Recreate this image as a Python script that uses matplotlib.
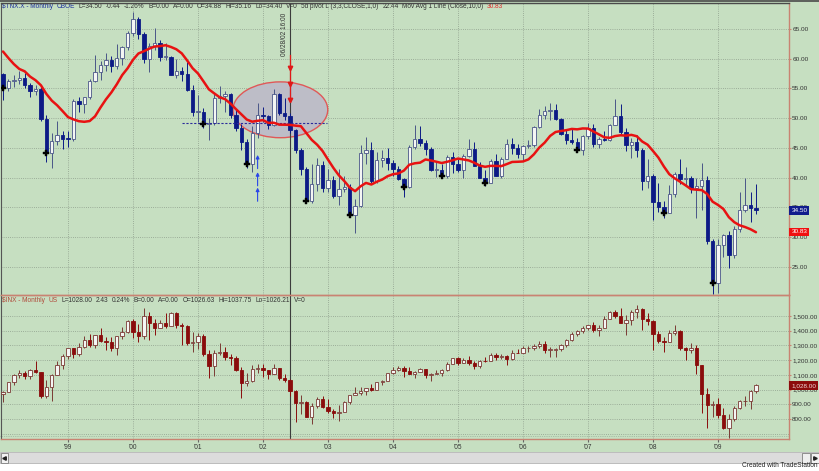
import matplotlib
matplotlib.use("Agg")
import matplotlib.pyplot as plt
from matplotlib.patches import Ellipse, Rectangle
from matplotlib.transforms import blended_transform_factory
import numpy as np

plt.rcParams["font.family"] = ["Liberation Sans", "DejaVu Sans"]

# ---- data: monthly bars Jan 1998 .. Aug 2009 (index 0 = Jan 1998) ----
# 10-year yield x10 ($TNX.X); closes Apr-Dec 1997 only feed the 10-bar average
TNX_PRE = [67.2, 66.6, 64.9, 59.5, 63.4, 61.0, 58.3, 58.7, 57.4]
TNX_O = [57.4, 55.1, 56.2, 56.5, 56.7, 55.5, 54.5, 54.9, 49.8, 44.2, 46.1, 47.1,
         46.5, 46.4, 52.9, 52.4, 53.5, 56.2, 57.8, 59.0, 59.7, 58.8, 60.2, 61.9,
         64.4, 66.7, 64.1, 60.0, 62.1, 62.7, 60.3, 60.3, 57.3, 58.0, 57.5, 54.7,
         51.1, 51.1, 49.0, 49.2, 53.4, 53.8, 54.1, 50.5, 48.3, 45.9, 42.3, 47.5,
         50.5, 50.3, 48.8, 54.0, 50.9, 50.4, 48.0, 44.6, 41.4, 36.0, 38.9, 42.1,
         38.2, 39.6, 36.9, 38.0, 38.4, 33.7, 35.2, 44.1, 44.7, 39.4, 42.9, 43.3,
         42.5, 41.4, 39.7, 38.4, 45.1, 46.5, 45.8, 44.8, 41.2, 41.2, 40.3, 43.5,
         42.2, 41.3, 43.6, 44.8, 42.0, 40.0, 39.1, 42.8, 40.2, 43.2, 45.6, 44.9,
         43.9, 45.3, 45.5, 48.5, 50.5, 51.2, 51.4, 49.8, 47.3, 46.3, 46.0, 44.6,
         47.0, 48.3, 45.6, 46.5, 46.3, 48.9, 50.3, 47.6, 45.4, 45.9, 44.7, 39.4,
         40.2, 35.9, 35.1, 34.1, 37.3, 40.6, 39.7, 39.9, 38.2, 38.5, 39.5, 29.3,
         22.2, 28.6, 30.4, 26.9, 31.3, 34.6, 35.3, 34.8]
TNX_H = [57.6, 56.6, 57.3, 58.0, 57.6, 55.9, 55.5, 55.2, 50.5, 47.5, 49.5, 47.9,
         47.8, 53.3, 53.6, 53.6, 56.6, 60.7, 59.6, 61.0, 60.5, 62.5, 62.2, 64.6,
         67.9, 67.0, 64.5, 62.6, 65.2, 63.2, 62.6, 60.5, 59.9, 58.6, 59.5, 55.6,
         53.9, 51.7, 50.1, 54.3, 55.4, 54.6, 54.2, 51.4, 49.0, 46.5, 48.6, 52.5,
         51.9, 50.6, 54.9, 54.2, 53.4, 50.9, 48.2, 44.9, 41.8, 42.3, 43.3, 42.7,
         41.4, 40.3, 41.4, 40.3, 38.9, 36.3, 45.4, 46.8, 46.0, 44.3, 44.6, 44.9,
         42.9, 41.9, 39.9, 45.4, 48.9, 48.7, 46.3, 45.1, 42.8, 42.2, 43.8, 44.3,
         43.2, 44.0, 46.4, 46.0, 42.6, 41.2, 43.1, 44.0, 43.4, 46.4, 46.7, 45.6,
         45.4, 46.3, 48.6, 51.5, 52.1, 52.5, 52.3, 50.1, 48.0, 48.4, 46.6, 47.1,
         49.1, 49.0, 46.9, 47.8, 49.0, 53.2, 52.3, 48.4, 46.7, 47.1, 44.9, 43.2,
         40.6, 39.1, 36.1, 38.8, 40.9, 43.2, 41.8, 40.3, 40.0, 42.5, 40.3, 29.6,
         29.6, 30.5, 31.0, 31.9, 37.5, 40.0, 37.6, 38.9]
TNX_L = [53.1, 54.6, 55.3, 55.7, 55.0, 53.6, 53.9, 49.5, 42.6, 41.6, 45.5, 44.8,
         45.1, 46.2, 51.1, 50.8, 53.3, 56.0, 56.5, 58.0, 57.7, 58.2, 58.9, 61.5,
         63.8, 63.3, 59.3, 57.8, 61.4, 59.6, 59.8, 57.2, 56.8, 56.2, 54.6, 50.4,
         49.3, 48.4, 46.3, 48.9, 52.6, 51.1, 50.1, 47.8, 44.6, 41.6, 41.0, 46.6,
         49.3, 48.2, 48.6, 50.6, 49.7, 47.5, 44.2, 40.4, 35.7, 35.7, 37.8, 37.6,
         37.6, 36.5, 35.4, 37.6, 33.3, 30.7, 35.0, 42.3, 39.1, 39.0, 41.7, 41.2,
         40.3, 39.6, 36.8, 38.2, 44.8, 45.3, 43.8, 41.1, 40.1, 39.9, 40.0, 40.8,
         41.0, 40.0, 43.5, 41.9, 39.9, 38.6, 39.1, 40.2, 39.9, 43.2, 43.9, 43.3,
         42.9, 44.9, 45.1, 48.3, 49.9, 49.6, 49.7, 47.2, 45.6, 45.6, 44.3, 43.8,
         46.5, 45.2, 44.9, 46.2, 46.2, 48.9, 47.3, 44.4, 43.3, 43.4, 37.9, 38.2,
         32.8, 34.2, 33.1, 34.0, 36.7, 38.9, 38.5, 37.4, 33.2, 34.5, 28.8, 20.4,
         20.6, 26.7, 24.7, 26.4, 30.9, 34.2, 32.5, 33.9]
TNX_C = [55.1, 56.2, 56.5, 56.7, 55.5, 54.5, 54.9, 49.8, 44.2, 46.1, 47.1, 46.5,
         46.4, 52.9, 52.4, 53.5, 56.2, 57.8, 59.0, 59.7, 58.8, 60.2, 61.9, 64.4,
         66.7, 64.1, 60.0, 62.1, 62.7, 60.3, 60.3, 57.3, 58.0, 57.5, 54.7, 51.1,
         51.1, 49.0, 49.2, 53.4, 53.8, 54.1, 50.5, 48.3, 45.9, 42.3, 47.5, 50.5,
         50.3, 48.8, 54.0, 50.9, 50.4, 48.0, 44.6, 41.4, 36.0, 38.9, 42.1, 38.2,
         39.6, 36.9, 38.0, 38.4, 33.7, 35.2, 44.1, 44.7, 39.4, 42.9, 43.3, 42.5,
         41.4, 39.7, 38.4, 45.1, 46.5, 45.8, 44.8, 41.2, 41.2, 40.3, 43.5, 42.2,
         41.3, 43.6, 44.8, 42.0, 40.0, 39.1, 42.8, 40.2, 43.2, 45.6, 44.9, 43.9,
         45.3, 45.5, 48.5, 50.5, 51.2, 51.4, 49.8, 47.3, 46.3, 46.0, 44.6, 47.0,
         48.3, 45.6, 46.5, 46.3, 48.9, 50.3, 47.6, 45.4, 45.9, 44.7, 39.4, 40.2,
         35.9, 35.1, 34.1, 37.3, 40.6, 39.7, 39.9, 38.2, 38.5, 39.5, 29.3, 22.2,
         28.6, 30.4, 26.9, 31.3, 34.6, 35.3, 34.8, 34.5]

# S&P 500 ($INX)
SPX_O = [970.4, 980.3, 1049.3, 1101.8, 1111.8, 1090.8, 1133.8, 1120.7, 957.3, 1017.0, 1098.7, 1163.6,
         1229.2, 1279.6, 1238.3, 1286.4, 1335.2, 1301.8, 1372.7, 1328.7, 1320.4, 1282.7, 1362.9, 1389.0,
         1469.3, 1394.5, 1366.4, 1498.6, 1452.4, 1420.6, 1454.6, 1430.8, 1517.7, 1436.5, 1429.4, 1315.2,
         1320.3, 1366.0, 1239.9, 1160.3, 1249.5, 1255.8, 1224.4, 1211.2, 1133.6, 1040.9, 1059.8, 1139.5,
         1148.1, 1130.2, 1106.7, 1147.4, 1076.9, 1067.1, 989.8, 911.6, 916.1, 815.3, 885.8, 936.3,
         879.8, 855.7, 841.2, 848.2, 916.9, 963.6, 974.5, 990.3, 1008.0, 996.0, 1050.7, 1058.2,
         1111.9, 1131.1, 1144.9, 1126.2, 1107.3, 1120.7, 1140.8, 1101.7, 1104.2, 1114.6, 1130.2, 1173.8,
         1211.9, 1181.3, 1203.6, 1180.6, 1156.9, 1191.5, 1191.3, 1234.2, 1220.3, 1228.8, 1207.0, 1249.5,
         1248.3, 1280.1, 1280.7, 1294.9, 1310.6, 1270.1, 1270.2, 1276.7, 1303.8, 1335.9, 1377.9, 1400.6,
         1418.3, 1438.2, 1406.8, 1420.9, 1482.4, 1530.6, 1503.4, 1455.3, 1474.0, 1526.8, 1549.4, 1481.1,
         1468.4, 1378.6, 1330.6, 1326.4, 1385.6, 1400.4, 1280.0, 1267.4, 1282.8, 1166.4, 968.8, 896.2,
         903.3, 825.9, 735.1, 797.9, 872.8, 919.1, 919.3, 987.5]
SPX_H = [992.7, 1051.0, 1105.7, 1130.5, 1122.7, 1138.5, 1190.6, 1121.0, 1066.1, 1104.0, 1192.9, 1244.9,
         1283.5, 1280.4, 1316.6, 1362.8, 1376.8, 1372.9, 1420.3, 1359.4, 1357.7, 1362.9, 1422.1, 1473.1,
         1478.0, 1444.5, 1552.9, 1527.2, 1481.5, 1474.6, 1517.3, 1525.2, 1530.1, 1454.8, 1438.5, 1389.1,
         1383.4, 1376.4, 1267.4, 1269.3, 1315.9, 1286.6, 1239.8, 1226.3, 1155.4, 1110.6, 1163.4, 1173.6,
         1176.6, 1130.2, 1173.0, 1147.8, 1106.6, 1070.7, 994.5, 965.0, 924.0, 907.4, 951.6, 954.3,
         935.1, 864.6, 895.9, 924.2, 965.4, 1015.3, 1015.4, 1011.0, 1040.3, 1053.8, 1063.7, 1112.6,
         1155.4, 1158.9, 1163.2, 1150.6, 1127.7, 1146.3, 1140.8, 1109.7, 1131.5, 1142.1, 1188.5, 1217.3,
         1217.8, 1212.4, 1229.1, 1191.9, 1199.6, 1219.6, 1245.2, 1245.9, 1243.1, 1233.3, 1270.6, 1275.8,
         1294.9, 1297.6, 1310.9, 1326.7, 1326.7, 1290.7, 1280.4, 1306.7, 1340.3, 1389.5, 1407.9, 1431.8,
         1441.6, 1461.6, 1438.9, 1498.0, 1535.6, 1540.6, 1555.9, 1503.9, 1538.7, 1576.1, 1552.8, 1523.6,
         1471.8, 1396.0, 1359.7, 1404.0, 1440.2, 1404.1, 1292.2, 1313.2, 1303.0, 1167.0, 1007.5, 918.9,
         943.9, 875.0, 832.9, 888.7, 930.2, 956.2, 996.7, 1039.5]
SPX_L = [912.8, 980.3, 1032.6, 1076.7, 1074.4, 1074.0, 1114.3, 939.9, 939.7, 923.3, 1098.7, 1136.9,
         1205.5, 1211.6, 1226.8, 1282.5, 1287.2, 1281.4, 1325.6, 1268.7, 1263.8, 1233.7, 1343.9, 1387.4,
         1350.1, 1325.1, 1346.6, 1339.4, 1373.5, 1420.6, 1416.5, 1430.8, 1419.4, 1305.8, 1305.9, 1254.1,
         1274.6, 1228.3, 1081.2, 1091.9, 1232.4, 1203.0, 1165.5, 1124.9, 944.8, 1026.8, 1054.3, 1114.5,
         1081.7, 1074.4, 1106.7, 1063.5, 1048.9, 952.9, 775.7, 833.4, 815.0, 768.6, 872.1, 871.8,
         840.3, 806.3, 788.9, 847.9, 902.8, 963.6, 962.1, 960.8, 990.4, 995.9, 1031.2, 1058.2,
         1105.1, 1124.4, 1087.2, 1107.2, 1076.3, 1118.2, 1078.8, 1060.7, 1102.1, 1090.2, 1127.6, 1173.8,
         1163.8, 1180.1, 1163.7, 1136.2, 1146.2, 1188.3, 1191.1, 1201.1, 1205.4, 1168.2, 1201.1, 1246.6,
         1245.7, 1253.6, 1268.4, 1285.0, 1245.3, 1219.3, 1224.5, 1261.3, 1290.9, 1327.1, 1360.9, 1385.9,
         1403.0, 1389.1, 1363.9, 1416.4, 1476.7, 1484.2, 1454.3, 1370.6, 1439.3, 1489.6, 1406.1, 1435.7,
         1270.1, 1316.8, 1256.9, 1324.4, 1373.1, 1272.0, 1200.4, 1247.5, 1106.4, 839.8, 741.0, 815.7,
         804.2, 734.5, 666.8, 783.3, 866.1, 888.9, 869.3, 978.5]
SPX_C = [980.3, 1049.3, 1101.8, 1111.8, 1090.8, 1133.8, 1120.7, 957.3, 1017.0, 1098.7, 1163.6, 1229.2,
         1279.6, 1238.3, 1286.4, 1335.2, 1301.8, 1372.7, 1328.7, 1320.4, 1282.7, 1362.9, 1389.0, 1469.3,
         1394.5, 1366.4, 1498.6, 1452.4, 1420.6, 1454.6, 1430.8, 1517.7, 1436.5, 1429.4, 1315.2, 1320.3,
         1366.0, 1239.9, 1160.3, 1249.5, 1255.8, 1224.4, 1211.2, 1133.6, 1040.9, 1059.8, 1139.5, 1148.1,
         1130.2, 1106.7, 1147.4, 1076.9, 1067.1, 989.8, 911.6, 916.1, 815.3, 885.8, 936.3, 879.8,
         855.7, 841.2, 848.2, 916.9, 963.6, 974.5, 990.3, 1008.0, 996.0, 1050.7, 1058.2, 1111.9,
         1131.1, 1144.9, 1126.2, 1107.3, 1120.7, 1140.8, 1101.7, 1104.2, 1114.6, 1130.2, 1173.8, 1211.9,
         1181.3, 1203.6, 1180.6, 1156.9, 1191.5, 1191.3, 1234.2, 1220.3, 1228.8, 1207.0, 1249.5, 1248.3,
         1280.1, 1280.7, 1294.9, 1310.6, 1270.1, 1270.2, 1276.7, 1303.8, 1335.9, 1377.9, 1400.6, 1418.3,
         1438.2, 1406.8, 1420.9, 1482.4, 1530.6, 1503.4, 1455.3, 1474.0, 1526.8, 1549.4, 1481.1, 1468.4,
         1378.6, 1330.6, 1322.7, 1385.6, 1400.4, 1280.0, 1267.4, 1282.8, 1166.4, 968.8, 896.2, 903.3,
         825.9, 735.1, 797.9, 872.8, 919.1, 919.3, 987.5, 1028.0]

PIVOT_LOWS = [0, 8, 37, 45, 56, 64, 74, 81, 89, 106, 122, 131]   # bars flagged by "5d pivot L"
EVENT_BAR = 53                     # Jun 2002 cursor line
EVENT_LABEL = "06/28/02 16:00"
YEAR_BARS = [12, 24, 36, 48, 60, 72, 84, 96, 108, 120, 132]
YEAR_LABELS = ["'99", "'00", "'01", "'02", "'03", "'04", "'05", "'06", "'07", "'08", "'09"]
TNX_TICKS = [25, 30, 35, 40, 45, 50, 55, 60, 65]
SPX_TICKS = [800, 900, 1000, 1100, 1200, 1300, 1400, 1500]
SPX_GRID = [700, 800, 900, 1000, 1100, 1200, 1300, 1400, 1500]
SUPPORT_LEVEL = 49.2               # dashed blue line
SUPPORT_SPAN = (33, 59.8)
BLUE_ARROW_BAR = 47
BLUE_ARROW_TIPS = [43.8, 40.9, 38.3]
RED_ARROW_TIPS = [58.4, 55.8, 53.0]
RED_ARROW_SPAN = (60.6, 52.8)
ZONE = dict(center=(51.2, 51.4), width=17.5, height=9.4)
LAST_TNX, LAST_MA, LAST_SPX = 34.50, 30.83, 1028.00

TOP_HEADER = [("$TNX.X - Monthly", "#1c2f9c"), ("CBOE", "#1c2f9c"),
              ("L=34.50", "#333333"), ("-0.44", "#333333"), ("-1.26%", "#333333"),
              ("B=0.00", "#333333"), ("A=0.00", "#333333"), ("O=34.88", "#333333"),
              ("Hi=35.16", "#333333"), ("Lo=34.40", "#333333"), ("V=0", "#333333"),
              ("5d pivot L (3,3,CLOSE,1,0)", "#333333"), ("22.44", "#333333"),
              ("Mov Avg 1 Line (Close,10,0)", "#333333"), ("30.83", "#e03030")]
BOT_HEADER = [("$INX - Monthly", "#b04a3a"), ("US", "#b04a3a"),
              ("L=1028.00", "#333333"), ("2.43", "#333333"), ("0.24%", "#333333"),
              ("B=0.00", "#333333"), ("A=0.00", "#333333"), ("O=1026.63", "#333333"),
              ("Hi=1037.75", "#333333"), ("Lo=1026.21", "#333333"), ("V=0", "#333333")]

# ---- styling ----
W, H = 820, 471
BG = "#c6dfc1"
SALMON = "#c98372"
GRID = "#8e9e8c"
NAVY = "#0c1a86"
DKRED = "#8a0c0c"
FS = 4.7          # small TradeStation-style text
FS_AX = 4.6


def fig_rect(x0, y0, x1, y1):
    """pixel box (top-left origin) -> figure fraction rect"""
    return [x0 / W, 1 - y1 / H, (x1 - x0) / W, (y1 - y0) / H]


def candles(ax, o, h, l, c, up_face, up_edge, dn_col, min_h):
    o, h, l, c = map(np.asarray, (o, h, l, c))
    x = np.arange(len(c))
    up = c >= o
    wick_cols = np.where(up, up_edge, dn_col)
    ax.vlines(x, l, h, colors=wick_cols, lw=0.7, zorder=3)
    lo = np.minimum(o, c)
    ht = np.maximum(np.abs(c - o), min_h)
    ax.bar(x[up], ht[up], bottom=lo[up], width=0.62, color=up_face,
           edgecolor=up_edge, lw=0.6, zorder=4)
    ax.bar(x[~up], ht[~up], bottom=lo[~up], width=0.62, color=dn_col,
           edgecolor=dn_col, lw=0.6, zorder=4)


def style_panel(ax, ylim, yticks, grid_vals, fmt):
    ax.set_facecolor("none")
    ax.set_xlim(-0.37, 145.1)
    ax.set_ylim(*ylim)
    ax.set_xticks(YEAR_BARS)
    ax.yaxis.tick_right()
    ax.set_yticks(yticks)
    ax.set_yticklabels([fmt(v) for v in yticks])
    ax.tick_params(axis="y", length=1.5, color=SALMON, pad=0.8, labelsize=FS_AX,
                   labelcolor="#333333")
    for v in grid_vals:
        ax.axhline(v, color=GRID, lw=0.6, ls=(0, (1, 1.6)), zorder=0.5)
    for b in YEAR_BARS:
        ax.axvline(b, color=GRID, lw=0.6, ls=(0, (1, 1.6)), zorder=0.5)
    for side in ("right", "bottom", "top"):
        ax.spines[side].set_color(SALMON)
        ax.spines[side].set_linewidth(1.0)
    ax.spines["left"].set_color("#555555")
    ax.axvline(EVENT_BAR, color="#3c3c3c", lw=0.8, zorder=2.5)


def header(ax, pieces, y, x0=2.0, gap=3.6):
    # lay the status-line pieces out one after another
    renderer = fig.canvas.get_renderer()
    x = x0
    for txt, col in pieces:
        t = ax.text(x, y, txt, ha="left", va="center", fontsize=FS, color=col)
        x += t.get_window_extent(renderer).width + gap


fig = plt.figure(figsize=(W / 100, H / 100), dpi=100)
fig.patch.set_facecolor("white")

# background / decoration layer in pixel coordinates
bg = fig.add_axes([0, 0, 1, 1], zorder=0)
bg.set_xlim(0, W)
bg.set_ylim(H, 0)
bg.axis("off")
bg.add_patch(Rectangle((0, 0), W, 452, facecolor=BG, edgecolor="none"))
bg.plot([0, W], [0.6, 0.6], color="#4a4a4a", lw=1.2)
bg.plot([0, 789], [436, 436], color=GRID, lw=0.5, ls=(0, (1, 1.6)))
bg.add_patch(Rectangle((0, 452), W, 11, facecolor="#dcdcdc", edgecolor="#b4b4b4", lw=0.6))
bg.add_patch(Rectangle((0.5, 452.5), 8, 10, facecolor="#f2f2f2", edgecolor="#808080", lw=0.6))
bg.add_patch(Rectangle((802, 452.5), 8, 10, facecolor="#eeeeee", edgecolor="#808080", lw=0.6))
bg.add_patch(Rectangle((811, 452.5), 8, 10, facecolor="#f2f2f2", edgecolor="#808080", lw=0.6))
bg.plot([4.3], [457.5], marker="<", ms=2.5, color="#202020")
bg.plot([815.3], [457.5], marker=">", ms=2.5, color="#202020")
bg.text(818, 465.5, "Created with TradeStation", ha="right", va="center",
        fontsize=FS, color="#202020")
header(bg, TOP_HEADER, 6.0)
header(bg, BOT_HEADER, 300.0)

# ---- top panel: $TNX.X ----
ax1 = fig.add_axes(fig_rect(1, 3, 789, 295), zorder=1)
style_panel(ax1, (20.22, 69.38), TNX_TICKS, TNX_TICKS, lambda v: f"{v:.2f}")
ax1.tick_params(axis="x", length=0, labelbottom=False)
ax1.spines["top"].set_color("#4a4a4a")

ax1.add_patch(Ellipse(ZONE["center"], ZONE["width"], ZONE["height"],
                      facecolor="#bdbdc7", edgecolor="#e05858", lw=1.0, zorder=2))
candles(ax1, TNX_O, TNX_H, TNX_L, TNX_C, "#f4f6f4", "#4a5688", NAVY, 0.18)

closes = np.array(TNX_PRE + TNX_C)
ma = np.convolve(closes, np.ones(10) / 10, mode="valid")
ax1.plot(np.arange(len(TNX_C)), ma, color="#e81212", lw=1.8, zorder=6,
         solid_capstyle="round")

piv = np.array(PIVOT_LOWS)
ax1.plot(piv, np.asarray(TNX_C)[piv], ls="none", marker="P", ms=4.2,
         color="black", mec="black", mew=0.3, zorder=7)

ax1.hlines(SUPPORT_LEVEL, *SUPPORT_SPAN, colors="#2a2a9a", lw=0.8,
           linestyles=(0, (2, 1.5)), zorder=5)
for tip in BLUE_ARROW_TIPS:
    ax1.annotate("", xy=(BLUE_ARROW_BAR, tip), xytext=(BLUE_ARROW_BAR, tip - 2.3),
                 arrowprops=dict(arrowstyle="-|>", color="#2a46e8", lw=0.8,
                                 mutation_scale=5, shrinkA=0, shrinkB=0), zorder=7)
ax1.plot([EVENT_BAR, EVENT_BAR], RED_ARROW_SPAN, color="#e01818", lw=0.9, zorder=7)
ax1.plot([EVENT_BAR] * len(RED_ARROW_TIPS), RED_ARROW_TIPS, ls="none",
         marker="v", ms=3.2, color="#e01818", zorder=7)

ax1.text(EVENT_BAR - 0.35, 0.968, EVENT_LABEL, rotation=90, ha="right", va="top",
         fontsize=FS, color="#333333",
         transform=blended_transform_factory(ax1.transData, ax1.transAxes))

tr1 = blended_transform_factory(ax1.transAxes, ax1.transData)
ax1.text(1.003, LAST_TNX, f"{LAST_TNX:.2f}", transform=tr1, ha="left", va="center",
         fontsize=FS_AX, color="white", zorder=10, clip_on=False,
         bbox=dict(boxstyle="square,pad=0.3", facecolor="#101c8c", edgecolor="none"))
ax1.text(1.003, LAST_MA, f"{LAST_MA:.2f}", transform=tr1, ha="left", va="center",
         fontsize=FS_AX, color="white", zorder=10, clip_on=False,
         bbox=dict(boxstyle="square,pad=0.3", facecolor="#f01010", edgecolor="none"))

# ---- bottom panel: $INX ----
ax2 = fig.add_axes(fig_rect(1, 295, 789, 439), zorder=1)
style_panel(ax2, (663.3, 1642.9), SPX_TICKS, SPX_GRID, lambda v: f"{v:,.2f}")
ax2.set_xticklabels(YEAR_LABELS)
ax2.tick_params(axis="x", length=2.5, color="#666666", pad=1, labelsize=FS,
                labelcolor="#333333")
candles(ax2, SPX_O, SPX_H, SPX_L, SPX_C, "#f4f6f4", "#7a3a34", DKRED, 2.5)

tr2 = blended_transform_factory(ax2.transAxes, ax2.transData)
ax2.text(1.003, LAST_SPX, f"{LAST_SPX:,.2f}", transform=tr2, ha="left", va="center",
         fontsize=FS_AX, color="#f0d8d8", zorder=10, clip_on=False,
         bbox=dict(boxstyle="square,pad=0.3", facecolor="#8c0c0c", edgecolor="none"))

fig.savefig("out.png", dpi=100, facecolor="white")
